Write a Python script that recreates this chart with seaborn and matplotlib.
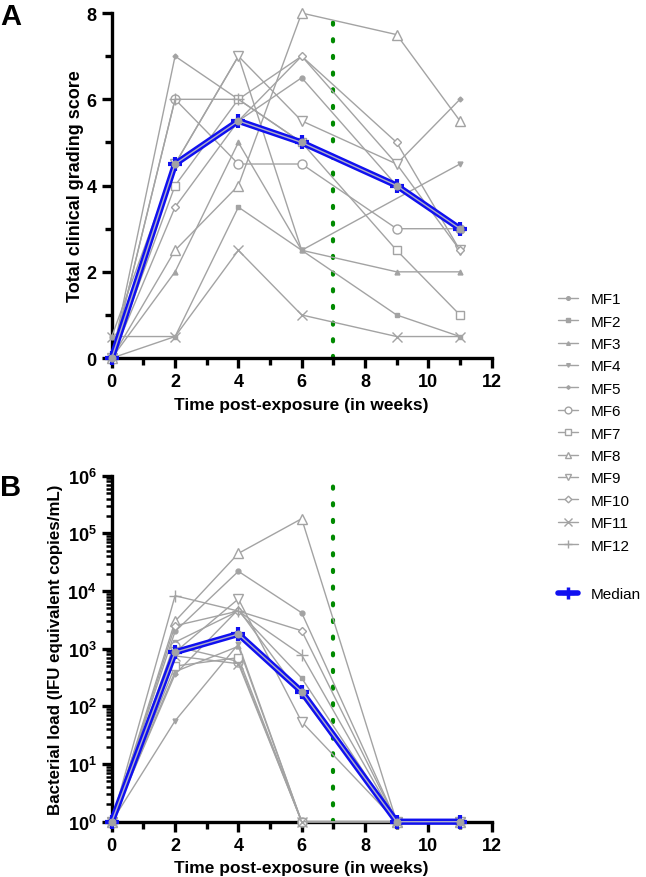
import numpy as np
import pandas as pd
import matplotlib
matplotlib.use("Agg")
import matplotlib.pyplot as plt
from matplotlib.lines import Line2D
from matplotlib.ticker import MultipleLocator, LogLocator, NullFormatter
import seaborn as sns

# data
weeks = [0, 2, 4, 6, 9, 11]
mice = ["MF1", "MF2", "MF3", "MF4", "MF5", "MF6", "MF7", "MF8", "MF9", "MF10", "MF11", "MF12"]

score_mf1 = [0.5, 4.5, 5.5, 6.5, 4, 3]
score_mf2 = [0, 0.5, 3.5, 2.5, 1, 0.5]
score_mf3 = [0, 2, 5, 2.5, 2, 2]
score_mf4 = [0, 4.5, 7, 2.5, np.nan, 4.5]
score_mf5 = [0, 7, 6, 7, 4.5, 6]
score_mf6 = [0, 6, 4.5, 4.5, 3, 3]
score_mf7 = [0, 4, 6, 5, 2.5, 1]
score_mf8 = [0, 2.5, 4, 8, 7.5, 5.5]
score_mf9 = [0, 4.5, 7, 5.5, 4.5, 2.5]
score_mf10 = [0, 3.5, 5.5, 7, 5, 2.5]
score_mf11 = [0.5, 0.5, 2.5, 1, 0.5, 0.5]
score_mf12 = [0, 6, 6, 5, 4, 3]
score_median = [0, 4.5, 5.5, 5, 4, 3]

load_mf1 = [1, 2000, 22000, 4200, 1, 1]
load_mf2 = [1, 1300, 4500, 310, 1, 1]
load_mf3 = [1, 400, 1100, 1, 1, 1]
load_mf4 = [1, 56, 1200, 1, 1, 1]
load_mf5 = [1, 360, 4800, 150, 1, 1]
load_mf6 = [1, 1100, 600, 1, 1, 1]
load_mf7 = [1, 500, 700, 1, 1, 1]
load_mf8 = [1, 3000, 45000, 180000, 1, 1]
load_mf9 = [1, 870, 7300, 54, 1, 1]
load_mf10 = [1, 2500, 4500, 2050, 1, 1]
load_mf11 = [1, 750, 550, 1, 1, 1]
load_mf12 = [1, 8300, 4500, 780, 1, 1]
load_median = [1, 870, 1800, 180, 1, 1]

scores = [score_mf1, score_mf2, score_mf3, score_mf4, score_mf5, score_mf6,
          score_mf7, score_mf8, score_mf9, score_mf10, score_mf11, score_mf12]
loads = [load_mf1, load_mf2, load_mf3, load_mf4, load_mf5, load_mf6,
         load_mf7, load_mf8, load_mf9, load_mf10, load_mf11, load_mf12]

rows = []
for m, s, l in zip(mice, scores, loads):
    for w, sv, lv in zip(weeks, s, l):
        rows.append({"mouse": m, "week": w, "score": sv, "load": lv})
df = pd.DataFrame(rows)

# marker style per mouse: (marker, size, filled)
styles = {
    "MF1": ("o", 3.5, True), "MF2": ("s", 3.5, True), "MF3": ("^", 3.5, True),
    "MF4": ("v", 3.5, True), "MF5": ("D", 2.5, True), "MF6": ("o", 6.5, False),
    "MF7": ("s", 6, False), "MF8": ("^", 6.5, False), "MF9": ("v", 6.5, False),
    "MF10": ("D", 4.5, False), "MF11": ("x", 7, False), "MF12": ("+", 8, False),
}

sns.set_style("ticks")
plt.rcParams["font.family"] = ["Liberation Sans", "DejaVu Sans"]
plt.rcParams["mathtext.fontset"] = "custom"
plt.rcParams["mathtext.bf"] = "Liberation Sans:bold"
plt.rcParams["mathtext.rm"] = "Liberation Sans"
for key in ("text.color", "axes.labelcolor", "xtick.color", "ytick.color", "axes.edgecolor"):
    plt.rcParams[key] = "black"

gray = "#a3a3a3"
blue = "#1010f0"

fig = plt.figure(figsize=(6.46, 8.78), dpi=100)
ax1 = fig.add_axes([0.173, 0.591, 0.588, 0.393])
ax2 = fig.add_axes([0.173, 0.063, 0.588, 0.394])


def draw_panel(ax, col, median):
    for m in mice:
        sub = df[df.mouse == m].dropna(subset=[col])
        mk, ms, filled = styles[m]
        sns.lineplot(data=sub, x="week", y=col, ax=ax, color=gray, lw=1,
                     marker=mk, markersize=ms, markeredgewidth=1,
                     markerfacecolor=gray if filled else "white",
                     markeredgecolor=gray, errorbar=None, estimator=None,
                     clip_on=False, zorder=3)
    sns.lineplot(x=weeks, y=median, ax=ax, color=blue, lw=4.5, marker="+",
                 markersize=10, markeredgewidth=3, markeredgecolor=blue,
                 errorbar=None, estimator=None, clip_on=False, zorder=4)
    sns.lineplot(x=weeks, y=median, ax=ax, color="#b0b0c8", lw=1,
                 marker="o", markersize=5, markerfacecolor=gray,
                 markeredgecolor=gray, errorbar=None, estimator=None,
                 clip_on=False, zorder=5)
    ax.axvline(7, color="#008a00", lw=3, linestyle=(0, (0.5, 3.5)),
               dash_capstyle="round", zorder=2)
    ax.set_xlim(0, 12)
    ax.xaxis.set_major_locator(MultipleLocator(2))
    ax.xaxis.set_minor_locator(MultipleLocator(1))
    ax.set_xlabel("Time post-exposure (in weeks)", fontsize=12.5, fontweight="bold", labelpad=4.5)
    sns.despine(ax=ax)
    for sp in ("left", "bottom"):
        ax.spines[sp].set_linewidth(2.4)
    ax.tick_params(which="major", length=7, width=2.4, labelsize=13, pad=4)
    ax.tick_params(which="minor", length=5, width=2.4)
    if ax.get_legend():
        ax.get_legend().remove()


draw_panel(ax1, "score", score_median)
ax1.set_ylim(0, 8)
ax1.yaxis.set_major_locator(MultipleLocator(2))
ax1.yaxis.set_minor_locator(MultipleLocator(1))
ax1.set_ylabel("Total clinical grading score", fontsize=13, fontweight="bold", labelpad=2)
for t in ax1.get_xticklabels() + ax1.get_yticklabels():
    t.set_fontweight("bold")

draw_panel(ax2, "load", load_median)
ax2.set_yscale("log")
ax2.set_ylim(1, 1e6)
ax2.set_yticks([10 ** i for i in range(7)])
ax2.set_yticklabels([r"$\mathbf{10^{%d}}$" % i for i in range(7)])
ax2.yaxis.set_minor_locator(LogLocator(base=10, subs=np.arange(2, 10)))
ax2.yaxis.set_minor_formatter(NullFormatter())
ax2.tick_params(axis="y", which="minor", length=4, width=1.8)
ax2.set_ylabel("Bacterial load (IFU equivalent copies/mL)", fontsize=12.2, fontweight="bold", labelpad=3)
for t in ax2.get_xticklabels():
    t.set_fontweight("bold")

fig.text(0.0, 0.997, "A", fontsize=21, fontweight="bold", va="top")
fig.text(0.0, 0.46, "B", fontsize=21, fontweight="bold", va="top")

# legend
handles = []
for m in mice:
    mk, ms, filled = styles[m]
    handles.append(Line2D([], [], color=gray, lw=1, marker=mk, markersize=ms * 0.75,
                          markerfacecolor=gray if filled else "white",
                          markeredgecolor=gray, label=m))
fig.legend(handles=handles, loc="upper left", bbox_to_anchor=(0.855, 0.673),
           frameon=False, fontsize=11, handlelength=1.3, handletextpad=0.8,
           labelspacing=0.55, borderaxespad=0)
med = Line2D([], [], color=blue, lw=4, marker="+", markersize=9, markeredgewidth=2.5,
             label="Median")
fig.legend(handles=[med], loc="upper left", bbox_to_anchor=(0.855, 0.337),
           frameon=False, fontsize=11, handlelength=1.3, handletextpad=0.8,
           borderaxespad=0)

fig.savefig("out.png", dpi=100)
